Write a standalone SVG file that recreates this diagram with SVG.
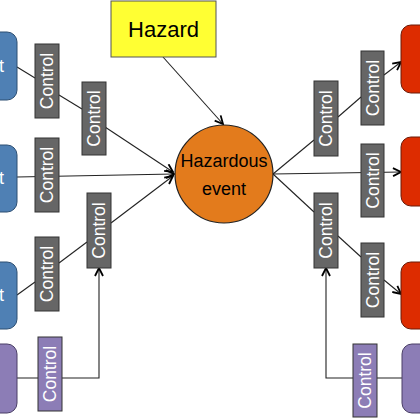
<svg xmlns="http://www.w3.org/2000/svg" width="420" height="420" viewBox="0 0 420 420">
<defs>
<marker id="arr" viewBox="0 0 10 10" refX="9" refY="5" markerWidth="10" markerHeight="10" markerUnits="userSpaceOnUse" orient="auto">
<path d="M1,1 L9,5 L1,9" fill="none" stroke="#000" stroke-width="1.8"/>
</marker>
<style>
.ln{fill:none;stroke:#222;stroke-width:1.1}
.ctl{fill:#666;stroke:#333;stroke-width:1}
.ctlp{fill:#8c7db6;stroke:#333;stroke-width:1}
.ct{font-family:"Liberation Sans",Arial,sans-serif;font-size:17.5px;fill:#fff;text-anchor:middle;dominant-baseline:central}
.blue{fill:#4f80b4;stroke:#2d4f73;stroke-width:1}
.red{fill:#dd2c00;stroke:#6b1a08;stroke-width:1}
.purp{fill:#8c7db6;stroke:#4a3f66;stroke-width:1}
.bt{font-family:"Liberation Sans",Arial,sans-serif;font-size:18px;fill:#fff}
.dt{font-family:"Liberation Sans",Arial,sans-serif;fill:#000;text-anchor:middle}
</style>
</defs>
<g id="connectors">
<line class="ln" x1="17" y1="67" x2="35" y2="78"/>
<line class="ln" x1="59" y1="95" x2="82" y2="109"/>
<line class="ln" x1="105" y1="127" x2="173" y2="172" marker-end="url(#arr)"/>
<line class="ln" x1="17" y1="177" x2="174" y2="174" marker-end="url(#arr)"/>
<line class="ln" x1="17" y1="295" x2="35" y2="282"/>
<line class="ln" x1="59" y1="263" x2="87" y2="242"/>
<line class="ln" x1="111" y1="223" x2="173" y2="176" marker-end="url(#arr)"/>
<polyline class="ln" points="17,378 99,378 99,268" marker-end="url(#arr)"/>
<line class="ln" x1="163" y1="57" x2="223" y2="124" marker-end="url(#arr)"/>
<line class="ln" x1="273" y1="174" x2="314" y2="140"/>
<line class="ln" x1="338" y1="117" x2="361" y2="97"/>
<line class="ln" x1="384" y1="75" x2="401" y2="62" marker-end="url(#arr)"/>
<line class="ln" x1="273" y1="174" x2="401" y2="172" marker-end="url(#arr)"/>
<line class="ln" x1="273" y1="174" x2="314" y2="212"/>
<line class="ln" x1="338" y1="236" x2="361" y2="257"/>
<line class="ln" x1="384" y1="280" x2="401" y2="294" marker-end="url(#arr)"/>
<polyline class="ln" points="402,378 326,378 326,268" marker-end="url(#arr)"/>
</g>
<g id="hazard">
<rect x="111" y="1" width="105" height="56" fill="#ffff33" stroke="#555" stroke-width="1"/>
<text class="dt" x="163.5" y="37" font-size="22">Hazard</text>
</g>
<g id="event">
<circle cx="224" cy="174" r="49" fill="#e37b1c" stroke="#222" stroke-width="1.2"/>
<text class="dt" x="224" y="167" font-size="18">Hazardous</text>
<text class="dt" x="224" y="195" font-size="18">event</text>
</g>
<g id="threat1"><rect class="blue" x="-20" y="32" width="37" height="68" rx="10"/><text class="bt" x="-1" y="72">t</text></g>
<g id="threat2"><rect class="blue" x="-20" y="145" width="37" height="67" rx="10"/><text class="bt" x="-1" y="184">t</text></g>
<g id="threat3"><rect class="blue" x="-20" y="262" width="37" height="67" rx="10"/><text class="bt" x="-1" y="301">t</text></g>
<g id="left4"><rect class="purp" x="-20" y="344" width="37" height="69" rx="10"/></g>
<g id="cons1"><rect class="red" x="401" y="25" width="40" height="68" rx="10"/></g>
<g id="cons2"><rect class="red" x="401" y="137" width="40" height="69" rx="10"/></g>
<g id="cons3"><rect class="red" x="401" y="262" width="40" height="67" rx="10"/></g>
<g id="right4"><rect class="purp" x="402" y="344" width="40" height="69" rx="10"/></g>
<g id="c1"><rect class="ctl" x="35" y="44" width="24" height="74"/><text class="ct" transform="translate(47,81) rotate(-90)">Control</text></g>
<g id="c2"><rect class="ctl" x="82" y="82" width="24" height="73"/><text class="ct" transform="translate(94,118.5) rotate(-90)">Control</text></g>
<g id="c3"><rect class="ctl" x="35" y="138" width="24" height="74"/><text class="ct" transform="translate(47,175) rotate(-90)">Control</text></g>
<g id="c4"><rect class="ctl" x="35" y="237" width="24" height="74"/><text class="ct" transform="translate(47,274) rotate(-90)">Control</text></g>
<g id="c5"><rect class="ctl" x="87" y="193" width="24" height="75"/><text class="ct" transform="translate(99,230.5) rotate(-90)">Control</text></g>
<g id="c6"><rect class="ctlp" x="38" y="337" width="24" height="74"/><text class="ct" transform="translate(50,374) rotate(-90)">Control</text></g>
<g id="c7"><rect class="ctl" x="314" y="81" width="24" height="75"/><text class="ct" transform="translate(326,118.5) rotate(-90)">Control</text></g>
<g id="c8"><rect class="ctl" x="361" y="51" width="23" height="74"/><text class="ct" transform="translate(372.5,88) rotate(-90)">Control</text></g>
<g id="c9"><rect class="ctl" x="361" y="144" width="23" height="73"/><text class="ct" transform="translate(372.5,180.5) rotate(-90)">Control</text></g>
<g id="c10"><rect class="ctl" x="314" y="193" width="24" height="75"/><text class="ct" transform="translate(326,230.5) rotate(-90)">Control</text></g>
<g id="c11"><rect class="ctl" x="361" y="243" width="23" height="74"/><text class="ct" transform="translate(372.5,280) rotate(-90)">Control</text></g>
<g id="c12"><rect class="ctlp" x="353" y="344" width="24" height="73"/><text class="ct" transform="translate(365,380.5) rotate(-90)">Control</text></g>
</svg>
